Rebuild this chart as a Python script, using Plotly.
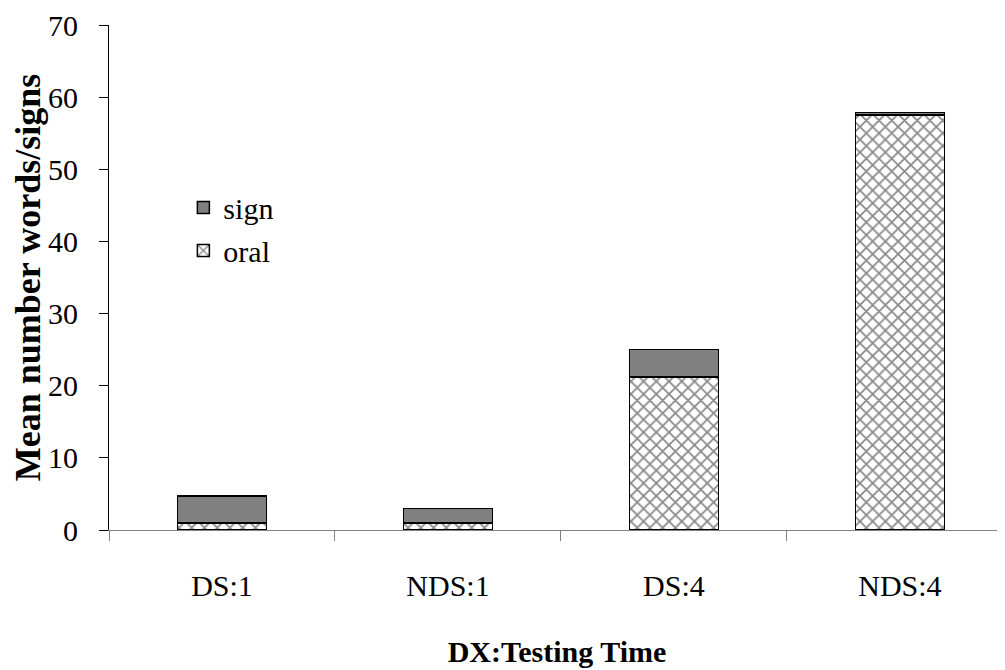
import plotly.graph_objects as go

categories = ["DS:1", "NDS:1", "DS:4", "NDS:4"]
oral = [1.0, 1.0, 21.2, 57.5]
sign = [3.7, 2.0, 3.8, 0.4]

FONT = "Liberation Serif, Times New Roman, serif"

fig = go.Figure()
fig.add_trace(go.Bar(
    x=categories, y=oral, name="oral", legendgroup="oral", legendrank=2,
    marker=dict(color="white", line=dict(color="black", width=1.5),
                pattern=dict(shape="x", fgcolor="#111111", bgcolor="white", size=9, solidity=0.35)),
    width=0.394,
))
fig.add_trace(go.Bar(
    x=categories, y=sign, name="sign", legendgroup="sign", legendrank=1,
    marker=dict(color="#808080", line=dict(color="black", width=1.5)),
    width=0.394,
))

fig.update_layout(
    barmode="stack",
    width=997, height=662,
    margin=dict(l=101, r=0, t=12, b=140),
    paper_bgcolor="white", plot_bgcolor="white",
    font=dict(family=FONT, size=30, color="black"),
    showlegend=True,
    legend=dict(x=0.083, y=0.69, xanchor="left", yanchor="top",
                traceorder="grouped", tracegroupgap=1,
                font=dict(size=30, family=FONT), bgcolor="rgba(0,0,0,0)",
                itemwidth=30),
    xaxis=dict(range=[-0.5, 3.465], showline=True, linecolor="#808080", linewidth=1,
               ticks="outside", tickson="boundaries", ticklen=10, tickcolor="#808080",
               tickfont=dict(size=30, family=FONT), ticklabelstandoff=29,
               title=dict(text="<b>DX:Testing Time</b>", font=dict(size=30, family=FONT), standoff=39),
               showgrid=False, zeroline=False),
    yaxis=dict(range=[0, 70], dtick=10, showline=True, linecolor="black", linewidth=1,
               ticks="outside", ticklen=9, tickcolor="black",
               tickfont=dict(size=30, family=FONT), ticklabelstandoff=15,
               ticklabeloverflow="allow",
               title=dict(text="<b>Mean number words/signs</b>", font=dict(size=36, family=FONT), standoff=8),
               showgrid=False, zeroline=False),
)

fig.write_html("out.html")
